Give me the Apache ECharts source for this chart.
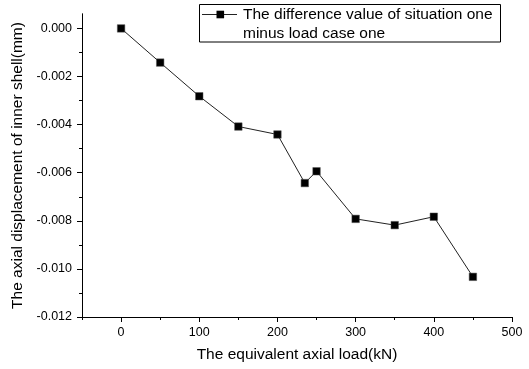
<!DOCTYPE html>
<html>
<head>
<meta charset="utf-8">
<script src="https://cdn.jsdelivr.net/npm/echarts@6/dist/echarts.min.js"></script>
<style>
  html, body { margin: 0; padding: 0; background: #fff; }
  #chart { width: 529px; height: 369px; }
</style>
</head>
<body>
<div id="chart"></div>
<script>
// Equivalent axial load (kN)
const loads = [0, 50, 100, 150, 200, 235, 250, 300, 350, 400, 450];
// Difference of axial displacement, situation one minus load case one (mm)
const displacement = [0.0, -0.00142, -0.00282, -0.00408, -0.00441, -0.00643, -0.00594, -0.00792, -0.00818, -0.00783, -0.01033];

const seriesName = 'The difference value of situation one\nminus load case one';
const xTicks = [0, 100, 200, 300, 400, 500];
const xMinorTicks = [-50, 50, 150, 250, 350, 450];
const yTicks = [-0.012, -0.010, -0.008, -0.006, -0.004, -0.002, 0.000];
const yMinorTicks = [-0.011, -0.009, -0.007, -0.005, -0.003, -0.001];

const FONT = 'Liberation Sans, Arial, sans-serif';
const chart = echarts.init(document.getElementById('chart'));

const baseX = {
  type: 'value', min: -50, max: 500,
  axisLine: { show: true, onZero: false, lineStyle: { color: '#000', width: 1 } },
  splitLine: { show: false }
};
const baseY = {
  type: 'value', min: -0.012, max: 0.0006,
  axisLine: { show: true, onZero: false, lineStyle: { color: '#000', width: 1 } },
  splitLine: { show: false }
};

chart.setOption({
  animation: false,
  backgroundColor: '#fff',
  grid: { left: 82, right: 17, top: 14, bottom: 52 },
  xAxis: [
    Object.assign({}, baseX, {
      name: 'The equivalent axial load(kN)',
      nameLocation: 'middle', nameGap: 30,
      nameTextStyle: { fontFamily: FONT, fontSize: 15.5, color: '#000' },
      axisTick: { show: true, length: 5, customValues: xTicks, lineStyle: { color: '#000' } },
      axisLabel: { show: true, margin: 9, customValues: xTicks, fontFamily: FONT, fontSize: 12.5, color: '#000' }
    }),
    Object.assign({}, baseX, {
      position: 'bottom',
      axisTick: { show: true, length: 3, customValues: xMinorTicks, lineStyle: { color: '#000' } },
      axisLabel: { show: false }
    })
  ],
  yAxis: [
    Object.assign({}, baseY, {
      name: 'The axial displacement of inner shell(mm)',
      nameLocation: 'middle', nameGap: 55,
      nameTextStyle: { fontFamily: FONT, fontSize: 15.5, color: '#000' },
      axisTick: { show: true, length: 5, customValues: yTicks, lineStyle: { color: '#000' } },
      axisLabel: {
        show: true, margin: 10, customValues: yTicks,
        fontFamily: FONT, fontSize: 12.5, color: '#000',
        formatter: v => v.toFixed(3)
      }
    }),
    Object.assign({}, baseY, {
      position: 'left',
      axisTick: { show: true, length: 3, customValues: yMinorTicks, lineStyle: { color: '#000' } },
      axisLabel: { show: false }
    })
  ],
  series: [{
    name: seriesName,
    type: 'line',
    xAxisIndex: 0, yAxisIndex: 0,
    data: loads.map((x, i) => [x, displacement[i]]),
    symbol: 'rect', symbolSize: 7.5,
    showAllSymbol: true,
    lineStyle: { color: '#222', width: 1 },
    itemStyle: { color: '#000', borderColor: '#555', borderWidth: 0.5 }
  }],
  graphic: [{
    type: 'group', left: 199, top: 4,
    children: [
      { type: 'rect', shape: { x: 0.5, y: 0.5, width: 301, height: 37.5 },
        style: { fill: '#fff', stroke: '#000', lineWidth: 1 } },
      { type: 'line', shape: { x1: 3, y1: 10.5, x2: 38, y2: 10.5 },
        style: { stroke: '#222', lineWidth: 1 } },
      { type: 'rect', shape: { x: 17.5, y: 6.7, width: 7.6, height: 7.6 },
        style: { fill: '#000' } },
      { type: 'text', x: 44, y: 1.5,
        style: { text: seriesName, font: '15.5px ' + FONT, fill: '#000', lineHeight: 18.5 } }
    ]
  }]
});
</script>
</body>
</html>
